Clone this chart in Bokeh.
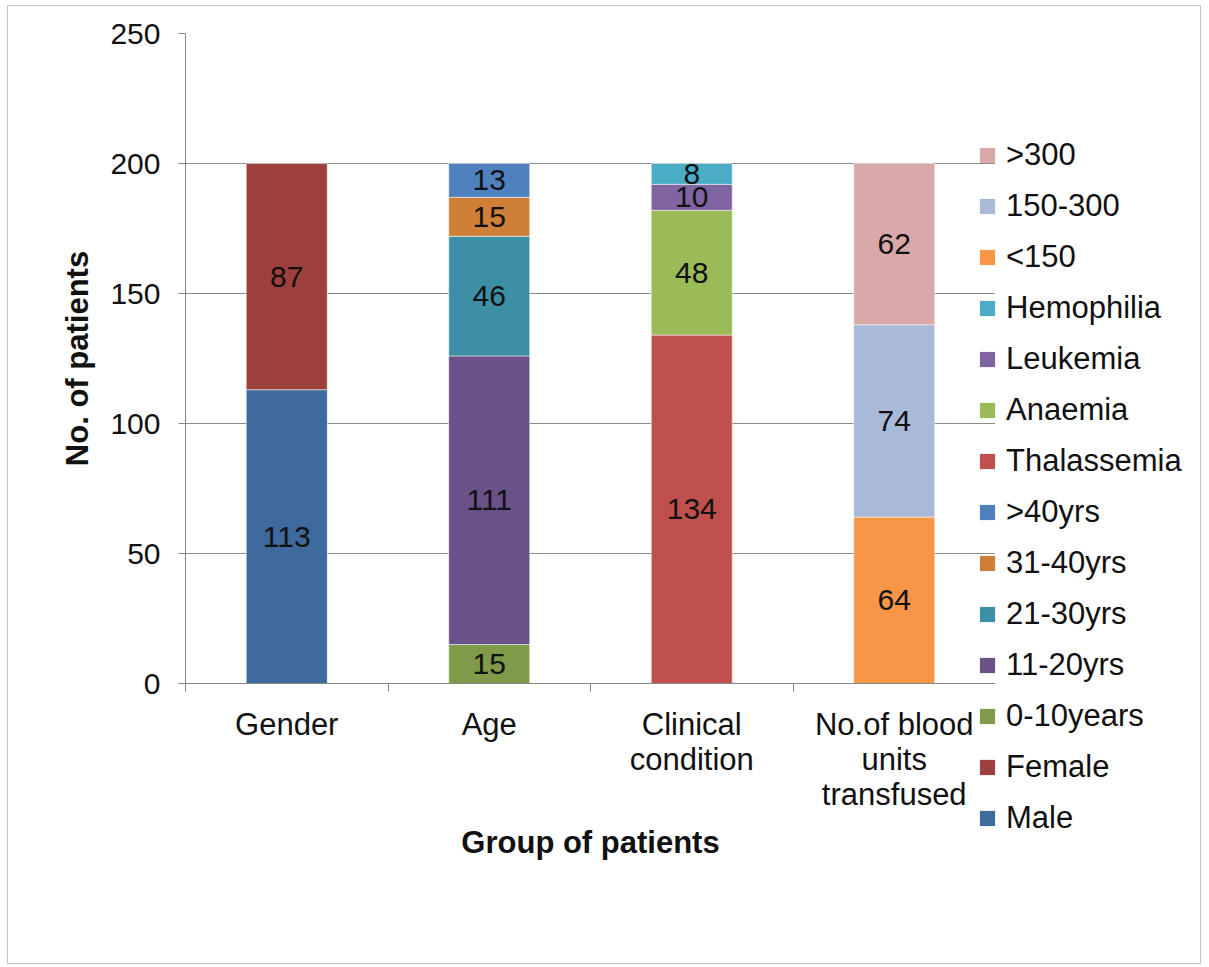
from bokeh.plotting import figure
from bokeh.layouts import row
from bokeh.models import (ColumnDataSource, Range1d, FixedTicker, Legend, LegendItem)
from bokeh.core.properties import value
from bokeh.embed import file_html
from bokeh.resources import INLINE

# ---- data ----
categories = ["Gender", "Age", "Clinical\ncondition", "No.of blood\nunits\ntransfused"]
series = ["Male", "Female", "0-10years", "11-20yrs", "21-30yrs", "31-40yrs", ">40yrs",
          "Thalassemia", "Anaemia", "Leukemia", "Hemophilia", "<150", "150-300", ">300"]
series_group = [0, 0, 1, 1, 1, 1, 1, 2, 2, 2, 2, 3, 3, 3]
values = [113, 87, 15, 111, 46, 15, 13, 134, 48, 10, 8, 64, 74, 62]
colors = ["#3E6A9D", "#9E403D", "#7F9A48", "#6A5289", "#3D8FA5", "#D07F37", "#4E81BD",
          "#C0504D", "#9BBB59", "#8064A2", "#4BACC6", "#F79646", "#A9B9D8", "#D9A8A8"]
y_ticks = [0, 50, 100, 150, 200, 250]

FONT = "Liberation Sans"
TXT = "#111111"
H = 957

# ---- main chart ----
p = figure(width=987, height=H, output_backend="svg", toolbar_location=None,
           x_range=Range1d(0, len(categories)), y_range=Range1d(0, 250),
           min_border_left=177, min_border_right=0, min_border_top=27,
           min_border_bottom=280)
p.outline_line_color = None

bottoms = [0.0] * len(categories)
for name, g, v, c in zip(series, series_group, values, colors):
    b = bottoms[g]
    src = ColumnDataSource(dict(x=[g + 0.5], bottom=[b], top=[b + v],
                                ym=[b + v / 2], lab=[str(v)]))
    p.vbar(x="x", bottom="bottom", top="top", width=0.4, source=src,
           fill_color=c, line_color="white", line_alpha=0.5, line_width=1)
    p.text(x="x", y="ym", text="lab", source=src, text_align="center",
           text_baseline="middle", text_font=value(FONT), text_font_size="30px",
           text_color=TXT)
    bottoms[g] = b + v

xax = p.xaxis[0]
xax.ticker = FixedTicker(ticks=[i + 0.5 for i in range(len(categories))],
                         minor_ticks=list(range(len(categories) + 1)))
xax.major_label_overrides = {i + 0.5: c for i, c in enumerate(categories)}
xax.major_tick_line_color = None
xax.minor_tick_line_color = "#868686"
xax.minor_tick_out = 8
xax.minor_tick_in = 0
xax.axis_line_color = "#868686"
xax.major_label_text_font = FONT
xax.major_label_text_font_size = "31px"
xax.major_label_text_line_height = 1.0
xax.major_label_text_color = TXT
xax.major_label_standoff = 15
xax.axis_label = "Group of patients"
xax.axis_label_text_font = FONT
xax.axis_label_text_font_style = "bold"
xax.axis_label_text_font_size = "31px"
xax.axis_label_text_color = TXT
xax.axis_label_standoff = 10

yax = p.yaxis[0]
yax.ticker = FixedTicker(ticks=y_ticks)
yax.minor_tick_line_color = None
yax.major_tick_line_color = "#868686"
yax.major_tick_out = 7
yax.major_tick_in = 0
yax.axis_line_color = "#868686"
yax.major_label_text_font = FONT
yax.major_label_text_font_size = "30px"
yax.major_label_text_color = TXT
yax.major_label_standoff = 18
yax.axis_label = "No. of patients"
yax.axis_label_text_font = FONT
yax.axis_label_text_font_style = "bold"
yax.axis_label_text_font_size = "31px"
yax.axis_label_text_color = TXT
yax.axis_label_standoff = 12

p.xgrid.grid_line_color = None
p.ygrid.grid_line_color = "#8c8c8c"
p.ygrid.ticker = FixedTicker(ticks=y_ticks)

# ---- legend panel (overlaps the chart's right edge slightly, transparent) ----
q = figure(width=234, height=H, output_backend="svg", toolbar_location=None,
           x_range=Range1d(0, 1), y_range=Range1d(0, 1),
           x_axis_type=None, y_axis_type=None,
           min_border_left=0, min_border_right=0, min_border_top=0, min_border_bottom=0)
q.outline_line_color = None
q.background_fill_color = None
q.border_fill_color = None
q.xgrid.visible = False
q.ygrid.visible = False
q.styles = {"margin-left": "-27px"}
for fig in (p, q):
    try:
        fig.frame_align = False
    except Exception:
        pass

proxies = []
for name, c in zip(series, colors):
    r = q.scatter(x=[-1], y=[-1], size=0, marker="square", fill_color=c, line_color=None)
    proxies.append((name, r))

items = [LegendItem(label=n, renderers=[r]) for n, r in reversed(proxies)]
legend = Legend(items=items, location=(0, 126), glyph_width=38, glyph_height=38,
                label_height=30, spacing=13, padding=0, margin=0, label_standoff=0,
                label_text_font=FONT, label_text_font_size="31px",
                label_text_color=TXT, border_line_color=None,
                background_fill_alpha=0)
q.add_layout(legend, "center")

layout = row(p, q)
layout.styles = {"border": "1px solid #c4c4c4", "margin-left": "7px", "margin-top": "5px",
                 "width": "1194px"}

open("out.html", "w").write(file_html(layout, INLINE))
